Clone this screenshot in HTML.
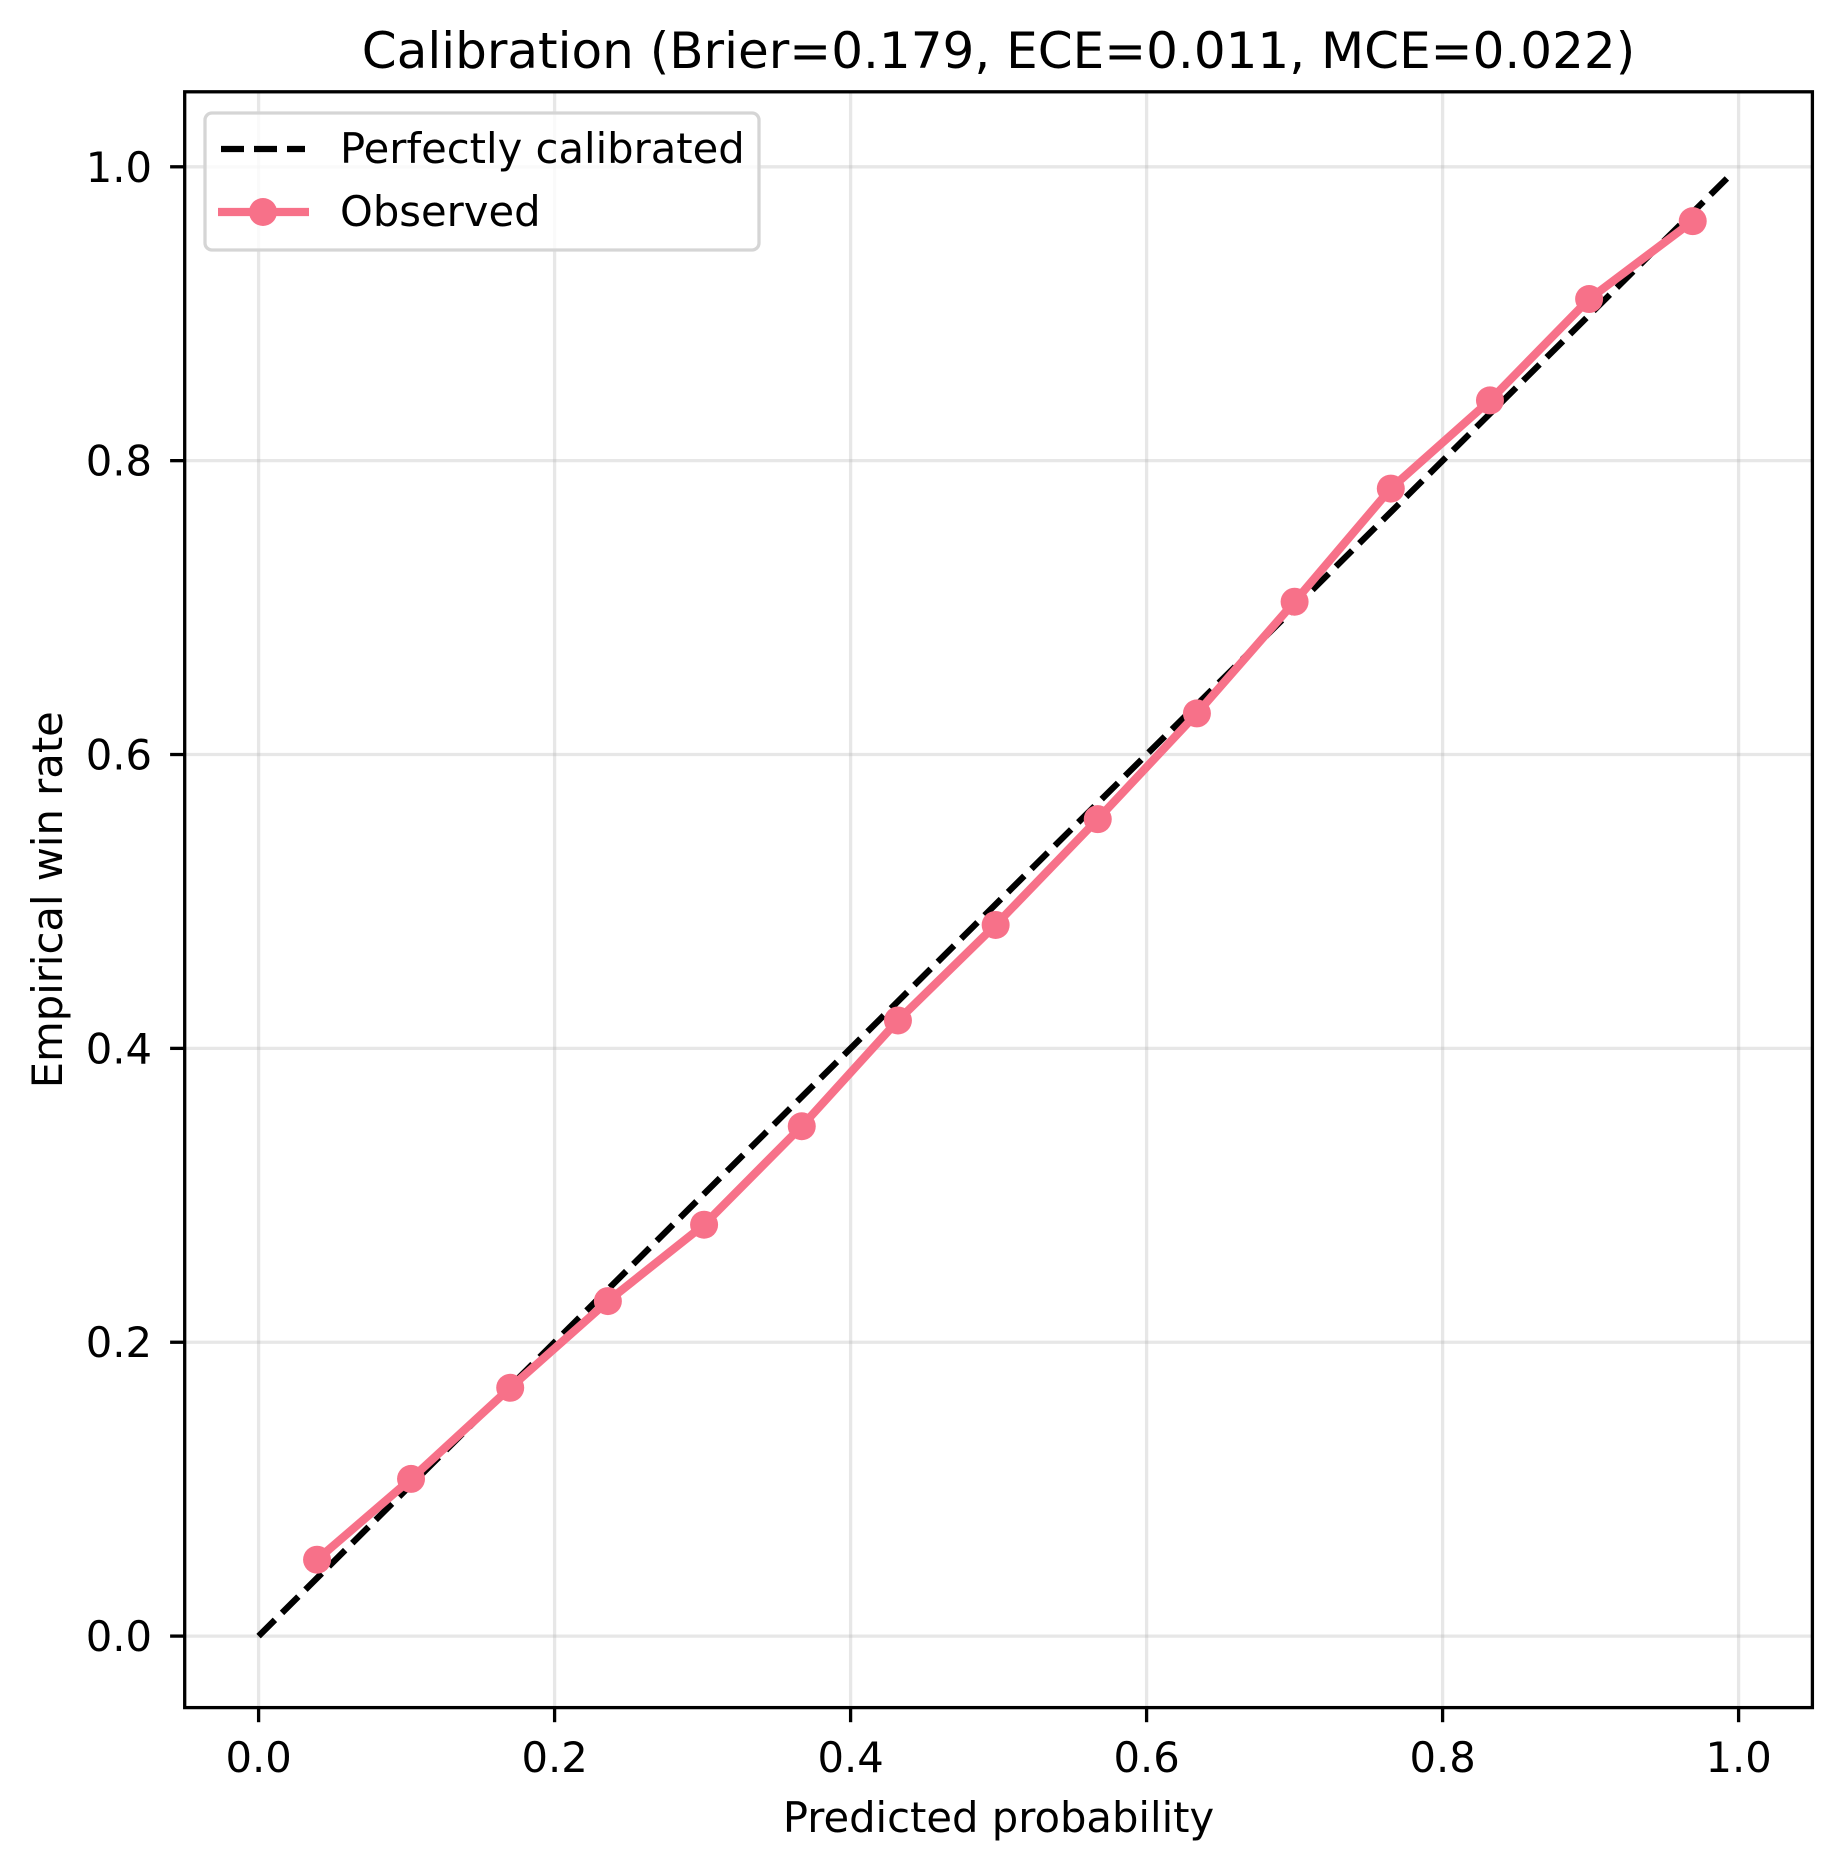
<!DOCTYPE html>
<html><head><meta charset="utf-8"><style>html,body{margin:0;padding:0;background:#fff}svg{display:block}text{font-family:"DejaVu Sans","Liberation Sans",sans-serif;fill:#000}</style></head>
<body>
<svg id="chart" width="1841" height="1869" viewBox="0 0 1841 1869" xmlns="http://www.w3.org/2000/svg">
<rect width="1841" height="1869" fill="#fff"/>
<g id="grid"></g>
<g id="diag"></g>
<g id="series"></g>
<rect x="184.7" y="91.8" width="1627.7" height="1615.8" fill="none" stroke="#000" stroke-width="3.3"/>
<g id="ticks"></g>
<text x="998.5" y="68" font-size="50" text-anchor="middle">Calibration (Brier=0.179, ECE=0.011, MCE=0.022)</text>
<text x="998.5" y="1832" font-size="41.7" text-anchor="middle">Predicted probability</text>
<text transform="translate(62,899.7) rotate(-90)" font-size="41.7" text-anchor="middle">Empirical win rate</text>
<g>
<rect x="205" y="113" width="554" height="137" rx="7" fill="#fff" fill-opacity="0.8" stroke="#d5d5d5" stroke-width="3.3"/>
<line x1="221" y1="149" x2="305" y2="149" stroke="#000" stroke-width="6.25" stroke-dasharray="23,10"/>
<text x="340" y="163" font-size="41.7">Perfectly calibrated</text>
<line x1="218" y1="212" x2="309" y2="212" stroke="#f77189" stroke-width="8.3"/>
<circle cx="263" cy="212" r="14" fill="#f77189"/>
<text x="340" y="226" font-size="41.7">Observed</text>
</g>
</svg>
<script>
const predicted = [0.0395,0.103,0.170,0.236,0.301,0.367,0.432,0.498,0.567,0.634,0.700,0.765,0.832,0.899,0.969];
const observed = [0.052,0.107,0.169,0.228,0.280,0.347,0.419,0.484,0.556,0.628,0.704,0.781,0.841,0.910,0.963];
const diagEnd = [0, 0.995];
const xTicks = [0,0.2,0.4,0.6,0.8,1.0];
const yTicks = [0,0.2,0.4,0.6,0.8,1.0];
const xTickLabels = ["0.0","0.2","0.4","0.6","0.8","1.0"];
const yTickLabels = ["0.0","0.2","0.4","0.6","0.8","1.0"];

const NS="http://www.w3.org/2000/svg";
const X=v=>258.6+v*(1738.6-258.6);
const Y=v=>1636.1-v*(1636.1-166.8);
function mk(tag,attrs,parent){const e=document.createElementNS(NS,tag);for(const k in attrs)e.setAttribute(k,attrs[k]);document.getElementById(parent).appendChild(e);return e;}
xTicks.forEach((t,i)=>{
  const g=mk('line',{x1:X(t),x2:X(t),y1:91.8,y2:1707.6,stroke:'#b0b0b0','stroke-opacity':0.3,'stroke-width':3.3},'grid');
  
  
  const tk=mk('line',{x1:X(t),x2:X(t),y1:1707.6,y2:1722.2,stroke:'#000','stroke-width':3.3},'ticks');
  
  
  const tx=mk('text',{x:X(t),y:1772,'font-size':41.7,'text-anchor':'middle'},'ticks');
  tx.textContent=xTickLabels[i];
  
  
});
yTicks.forEach((t,i)=>{
  const g=mk('line',{x1:184.7,x2:1812.4,y1:Y(t),y2:Y(t),stroke:'#b0b0b0','stroke-opacity':0.3,'stroke-width':3.3},'grid');
  
  
  const tk=mk('line',{x1:170.1,x2:184.7,y1:Y(t),y2:Y(t),stroke:'#000','stroke-width':3.3},'ticks');
  
  
  const tx=mk('text',{x:152,y:Y(t)+15,'font-size':41.7,'text-anchor':'end'},'ticks');
  tx.textContent=yTickLabels[i];
  
  
});
const d=mk('line',{x1:X(diagEnd[0]),y1:Y(diagEnd[0]),x2:X(diagEnd[1]),y2:Y(diagEnd[1]),stroke:'#000','stroke-width':6.25,'stroke-dasharray':'23,10'},'diag');


const pl=mk('polyline',{points:predicted.map((p,i)=>X(p)+','+Y(observed[i])).join(' '),fill:'none',stroke:'#f77189','stroke-width':8.3,'stroke-linejoin':'round'},'series');


predicted.forEach((p,i)=>{
  const c=mk('circle',{cx:X(p),cy:Y(observed[i]),r:14,fill:'#f77189'},'series');
  
  
});
</script>
</body></html>
